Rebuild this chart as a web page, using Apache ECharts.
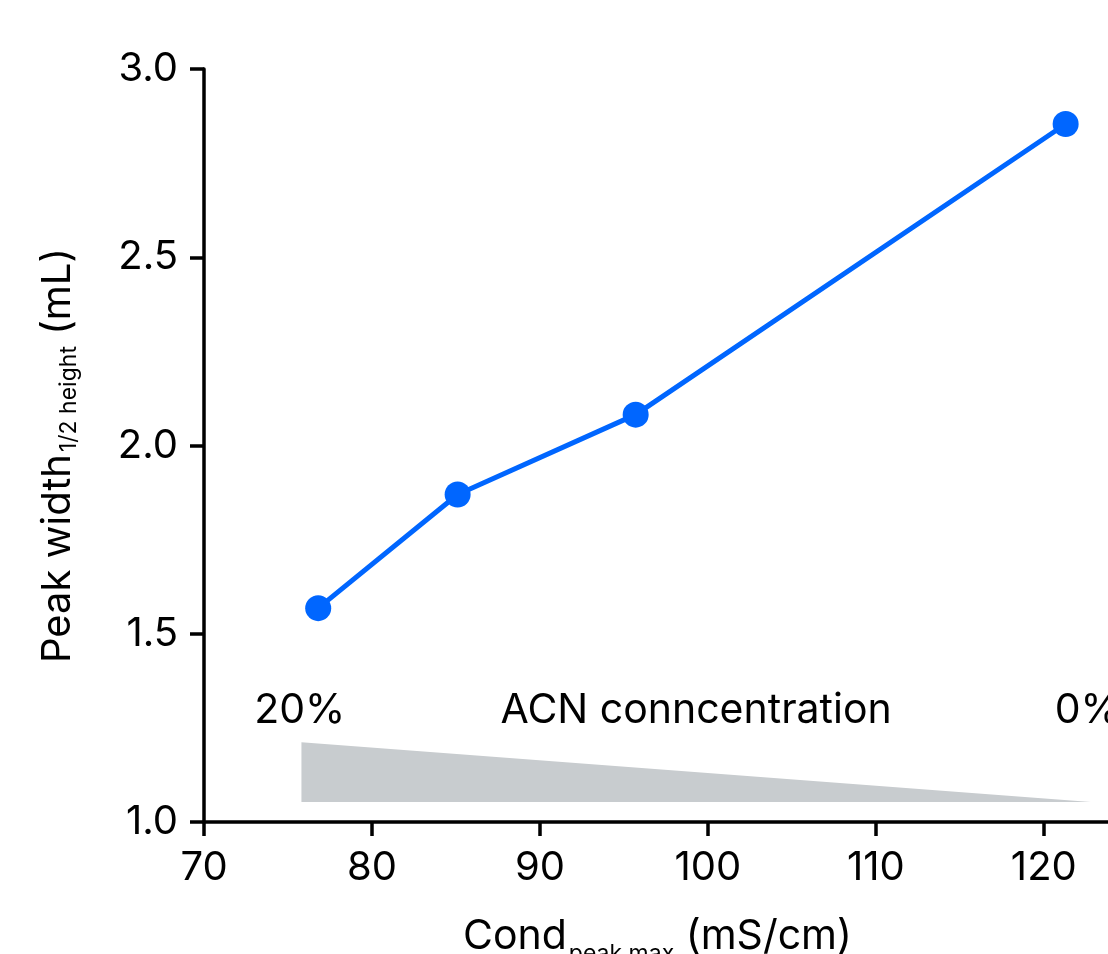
<!DOCTYPE html>
<html>
<head>
<meta charset="utf-8">
<script src="https://cdn.jsdelivr.net/npm/echarts@6/dist/echarts.min.js"></script>
<style>
  html, body { margin: 0; padding: 0; background: #fff; }
  #main { width: 1108px; height: 954px; }
</style>
</head>
<body>
<div id="main"></div>
<script>
// 数据：电导率 vs 半峰宽
var condValues = [76.8, 85.1, 95.7, 121.3];
var widthValues = [1.568, 1.870, 2.082, 2.854];

// ACN 梯度三角形（x, y）
var gradientShape = [[75.8, 1.212], [75.8, 1.053], [122.8, 1.053]];

// 注释文字
var noteTexts = ['20%', 'ACN conncentration', '0%'];
var noteX = [75.7, 99.3, 120.65];
var noteAlign = ['center', 'center', 'left'];
var noteY = 1.295;

var xTicks = [70, 80, 90, 100, 110, 120];
var yTicks = [1.0, 1.5, 2.0, 2.5, 3.0];

var FONT = 'Inter';
var BLUE = '#0066ff';

var myChart = echarts.init(document.getElementById('main'));

var lineData = condValues.map(function (c, i) { return [c, widthValues[i]]; });
var noteData = noteTexts.map(function (t, i) { return [noteX[i], noteY, i]; });

var option = {
    animation: false,
    grid: {
        left: 204, top: 69, width: 907, height: 753,
        containLabel: false,
        outerBoundsMode: 'none'
    },
    xAxis: {
        type: 'value',
        min: xTicks[0],
        max: 124,
        interval: 10,
        name: '{a|Cond}{b|peak max}{a| (mS/cm)}',
        nameLocation: 'middle',
        nameGap: 85,
        nameTextStyle: {
            rich: {
                a: { fontFamily: FONT, fontSize: 41, color: '#000', lineHeight: 48 },
                b: { fontFamily: FONT, fontSize: 23, color: '#000', padding: [36, 0, 0, 2] }
            }
        },
        axisLine: { lineStyle: { color: '#000', width: 3.5 } },
        axisTick: { length: 14, lineStyle: { color: '#000', width: 3.5 } },
        axisLabel: {
            fontFamily: FONT, fontSize: 40, color: '#000', margin: 26,
            showMaxLabel: false,
            formatter: function (v) { return xTicks.indexOf(v) >= 0 ? String(v) : ''; }
        },
        splitLine: { show: false }
    },
    yAxis: {
        type: 'value',
        min: yTicks[0],
        max: yTicks[yTicks.length - 1],
        interval: 0.5,
        name: '{a|Peak width}{b|1/2 height}{a| (mL)}',
        nameLocation: 'middle',
        nameRotate: 90,
        nameGap: 122,
        nameTextStyle: {
            padding: [0, 20, 0, 0],
            rich: {
                a: { fontFamily: FONT, fontSize: 40, color: '#000', lineHeight: 48 },
                b: { fontFamily: FONT, fontSize: 23, color: '#000', padding: [22, 0, 0, 2] }
            }
        },
        axisLine: { lineStyle: { color: '#000', width: 3.5 } },
        axisTick: { length: 14, lineStyle: { color: '#000', width: 3.5 } },
        axisLabel: {
            fontFamily: FONT, fontSize: 40, color: '#000', margin: 26,
            formatter: function (v) { return v.toFixed(1); }
        },
        splitLine: { show: false }
    },
    series: [
        {
            type: 'custom',
            silent: true,
            data: [0],
            renderItem: function (params, api) {
                var pts = gradientShape.map(function (p) { return api.coord(p); });
                return {
                    type: 'polygon',
                    shape: { points: pts },
                    style: { fill: '#c8cccf' }
                };
            }
        },
        {
            type: 'custom',
            silent: true,
            data: noteData,
            renderItem: function (params, api) {
                var idx = api.value(2);
                var p = api.coord([api.value(0), api.value(1)]);
                return {
                    type: 'text',
                    x: p[0],
                    y: p[1],
                    style: {
                        text: noteTexts[idx],
                        fill: '#000',
                        font: '41px ' + FONT,
                        align: noteAlign[idx],
                        verticalAlign: 'middle'
                    }
                };
            }
        },
        {
            type: 'line',
            data: lineData,
            symbol: 'circle',
            symbolSize: 26,
            lineStyle: { color: BLUE, width: 5 },
            itemStyle: { color: BLUE }
        }
    ]
};

myChart.setOption(option);
</script>
</body>
</html>
